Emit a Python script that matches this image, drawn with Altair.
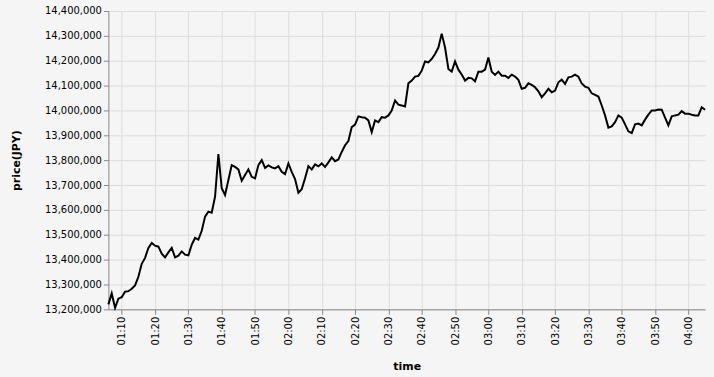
import altair as alt
import pandas as pd

start_time = "2021-01-01 01:06:00"
tick_times = [(1, 10), (1, 20), (1, 30), (1, 40), (1, 50), (2, 0), (2, 10), (2, 20), (2, 30),
              (2, 40), (2, 50), (3, 0), (3, 10), (3, 20), (3, 30), (3, 40), (3, 50), (4, 0)]
prices = [
    13220000, 13264000, 13206000, 13243000, 13249000, 13271000, 13273000, 13283000, 13296000, 13331000,
    13383000, 13407000, 13447000, 13467000, 13456000, 13452000, 13424000, 13409000, 13429000, 13447000,
    13409000, 13416000, 13433000, 13420000, 13417000, 13460000, 13487000, 13480000, 13516000, 13573000,
    13593000, 13589000, 13653000, 13824000, 13687000, 13660000, 13720000, 13780000, 13773000, 13763000,
    13717000, 13740000, 13763000, 13733000, 13727000, 13780000, 13800000, 13769000, 13779000, 13771000,
    13767000, 13776000, 13753000, 13744000, 13787000, 13753000, 13724000, 13669000, 13683000, 13727000,
    13776000, 13763000, 13783000, 13775000, 13787000, 13773000, 13791000, 13811000, 13796000, 13803000,
    13833000, 13860000, 13877000, 13933000, 13943000, 13976000, 13973000, 13971000, 13960000, 13913000,
    13960000, 13953000, 13973000, 13971000, 13980000, 14000000, 14040000, 14023000, 14020000, 14016000,
    14109000, 14120000, 14136000, 14139000, 14160000, 14197000, 14193000, 14207000, 14227000, 14253000,
    14309000, 14253000, 14167000, 14156000, 14197000, 14164000, 14144000, 14120000, 14131000, 14129000,
    14117000, 14156000, 14156000, 14164000, 14213000, 14156000, 14143000, 14156000, 14140000, 14140000,
    14131000, 14144000, 14136000, 14123000, 14087000, 14091000, 14109000, 14103000, 14093000, 14077000,
    14053000, 14069000, 14087000, 14073000, 14080000, 14113000, 14124000, 14107000, 14133000, 14136000,
    14144000, 14136000, 14109000, 14096000, 14091000, 14069000, 14063000, 14056000, 14020000, 13980000,
    13931000, 13936000, 13953000, 13980000, 13971000, 13944000, 13916000, 13909000, 13944000, 13947000,
    13940000, 13963000, 13983000, 14000000, 14000000, 14004000, 14003000, 13971000, 13940000, 13976000,
    13980000, 13983000, 13997000, 13987000, 13987000, 13983000, 13980000, 13980000, 14013000, 14003000,
]

times = pd.date_range(start_time, periods=len(prices), freq="min").strftime("%Y-%m-%dT%H:%M:%S")
df = pd.DataFrame({"time": list(times), "price": prices})

tick_values = [alt.DateTime(year=2021, month=1, date=1, hours=h, minutes=m) for h, m in tick_times]

chart = (
    alt.Chart(df)
    .mark_line(color="black", strokeWidth=2)
    .encode(
        x=alt.X(
            "time:T",
            title="time",
            axis=alt.Axis(format="%H:%M", labelAngle=270, values=tick_values, titlePadding=16),
        ),
        y=alt.Y(
            "price:Q",
            title="price(JPY)",
            scale=alt.Scale(domain=[13200000, 14400000], zero=False),
            axis=alt.Axis(format=",.0f", tickCount=12, titlePadding=23),
        ),
    )
    .properties(
        width=600,
        height=300,
        background="#f5f5f5",
        padding={"left": 10, "right": 5, "top": 5, "bottom": 4},
    )
    .configure(font="DejaVu Sans")
    .configure_axis(labelFont="DejaVu Sans", titleFont="DejaVu Sans", labelFontSize=10, titleFontSize=11)
    .configure_view(stroke=None)
)

chart.save("out.html", embed_options={"renderer": "svg", "actions": False})
